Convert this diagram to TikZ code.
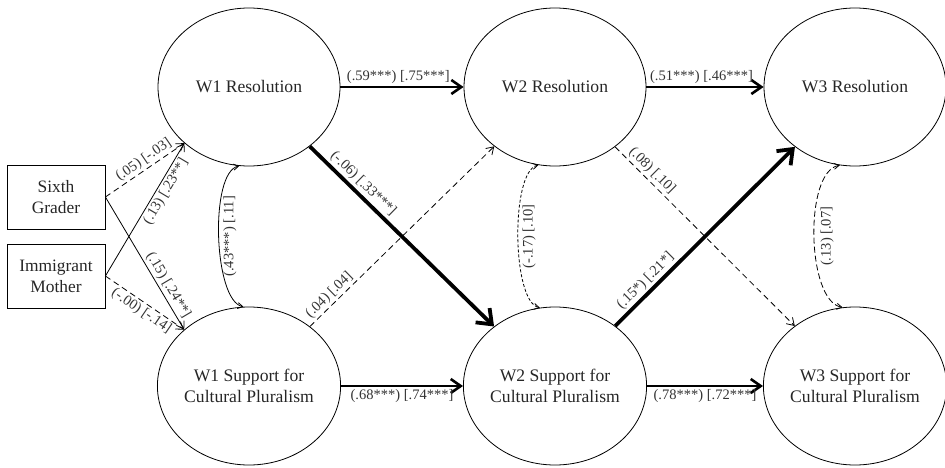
\documentclass[tikz,border=0pt]{standalone}
\usepackage{fontspec}
\setmainfont{Liberation Serif}
\usetikzlibrary{arrows.meta,shapes.geometric}
\begin{document}
\begin{tikzpicture}[x=1pt,y=-1pt,
  latent/.style={ellipse, draw, line width=0.8pt, minimum width=182pt, minimum height=158pt, inner sep=0pt, align=center, font=\fontsize{17.6}{21}\selectfont, text=black!85},
  obs/.style={rectangle, draw, line width=0.8pt, minimum width=98pt, minimum height=64pt, inner sep=0pt, align=center, font=\fontsize{17.4}{21}\selectfont, text=black!85},
  lab/.style={font=\fontsize{14.5}{16}\selectfont, text=black!80, inner sep=2pt},
  pthin/.style={line width=0.8pt, -{Straight Barb[length=7pt,width=9pt]}},
  pthick/.style={line width=2.6pt, -{Straight Barb[length=10pt,width=14pt]}},
  pheavy/.style={line width=3.8pt, -{Straight Barb[length=13pt,width=20pt]}},
  dsh/.style={dash pattern=on 6pt off 4pt},
  corr/.style={line width=0.8pt, {Straight Barb[length=5pt,width=6pt]}-{Straight Barb[length=5pt,width=6pt]}}
]
\useasboundingbox (0,0) rectangle (945,468);

\node[latent] (w1r) at (249,87) {W1 Resolution};
\node[latent] (w2r) at (555,87) {W2 Resolution};
\node[latent] (w3r) at (855,87) {W3 Resolution};
\node[latent] (w1s) at (249,386) {W1 Support for\\Cultural Pluralism};
\node[latent] (w2s) at (555,386) {W2 Support for\\Cultural Pluralism};
\node[latent] (w3s) at (855,386) {W3 Support for\\Cultural Pluralism};
\node[obs] (six) at (56,197) {Sixth\\Grader};
\node[obs] (imm) at (56,276) {Immigrant\\Mother};

% covariates
\draw[pthin, dsh] (six.east) -- node[lab, pos=.55, sloped, above]{(.05) [-.03]} (w1r.221);
\draw[pthin] (imm.east) -- node[lab, pos=.67, sloped, below]{(.13) [.23**]} (w1r.221);
\draw[pthin] (six.east) -- node[lab, pos=.70, sloped, above]{(.15) [.24**]} (w1s.139);
\draw[pthin, dsh] (imm.east) -- node[lab, pos=.52, sloped, below]{(-.00) [-.14]} (w1s.139);

% stability paths
\draw[pthick] (w1r) -- node[lab, above, pos=.47]{(.59***) [.75***]} (w2r);
\draw[pthick] (w2r) -- node[lab, above, pos=.47]{(.51***) [.46***]} (w3r);
\draw[pthick] (w1s) -- node[lab, below, pos=.5]{(.68***) [.74***]} (w2s);
\draw[pthick] (w2s) -- node[lab, below, pos=.5]{(.78***) [.72***]} (w3s);

% cross-lagged paths
\draw[pthin, dsh] (w1s) -- node[lab, pos=.14, sloped, above]{(.04) [.04]} (w2r);
\draw[pthin, dsh] (w2r) -- node[lab, pos=.17, sloped, above]{(.08) [.10]} (w3s);
\draw[pheavy] (w1r) -- node[lab, pos=.25, sloped, above]{(-.06) [.33***]} (w2s);
\draw[pheavy] (w2s) -- node[lab, pos=.21, sloped, above]{(.15*) [.21*]} (w3r);

% correlations
\draw[corr] (w1r.263) .. controls +(-30,6) and +(-30,-6) .. node[lab, pos=.5, rotate=90, anchor=north, inner sep=4pt]{(.43***) [.11]} (w1s.94);
\draw[corr, dash pattern=on 3pt off 2pt] (w2r.258) .. controls +(-28,6) and +(-28,-6) .. node[lab, pos=.5, rotate=90, anchor=north, inner sep=4pt]{(-.17) [.10]} (w2s.101);
\draw[corr, dash pattern=on 6pt off 3pt] (w3r.259) .. controls +(-36,6) and +(-36,-6) .. node[lab, pos=.5, rotate=90, anchor=north, inner sep=6pt]{(.13) [.07]} (w3s.99);
\end{tikzpicture}
\end{document}
